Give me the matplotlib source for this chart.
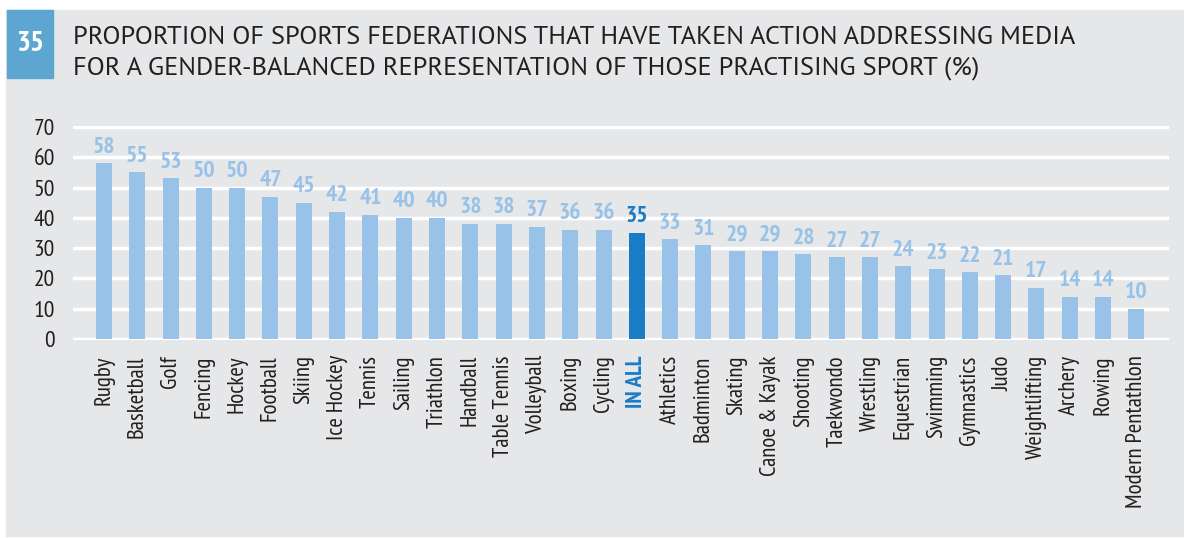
import matplotlib.pyplot as plt
from matplotlib.patches import Rectangle

# federations and share (%) that took media action
sports = ["Rugby", "Basketball", "Golf", "Fencing", "Hockey", "Football", "Skiing",
          "Ice Hockey", "Tennis", "Sailing", "Triathlon", "Handball", "Table Tennis",
          "Volleyball", "Boxing", "Cycling", "IN ALL", "Athletics", "Badminton",
          "Skating", "Canoe & Kayak", "Shooting", "Taekwondo", "Wrestling",
          "Equestrian", "Swimming", "Gymnastics", "Judo", "Weightlifting",
          "Archery", "Rowing", "Modern Pentathlon"]
values = [58, 55, 53, 50, 50, 47, 45, 42, 41, 40, 40, 38, 38, 37, 36, 36, 35,
          33, 31, 29, 29, 28, 27, 27, 24, 23, 22, 21, 17, 14, 14, 10]
yticks = [0, 10, 20, 30, 40, 50, 60, 70]
total_label = "IN ALL"

light = "#99c2e8"
dark = "#1a7cc6"
panel = "#e6e7e8"
text_col = "#231f20"
narrow = ["PT Sans Narrow", "DejaVu Sans"]
title_font = ["PT Sans", "DejaVu Sans"]

fig = plt.figure(figsize=(11.84, 5.38), dpi=100)
fig.patch.set_facecolor("white")

W, H = 1184, 538
# grey panel and number box
fig.patches.append(Rectangle((6 / W, 2 / H), 1 - 6 / W, 526 / H,
                             transform=fig.transFigure, color=panel, zorder=0))
fig.patches.append(Rectangle((7 / W, (H - 78) / H), 46 / W, 68 / H,
                             transform=fig.transFigure, color="#5ea6d2", zorder=1))
fig.text(30 / W, (H - 44) / H, "35", color="white", fontsize=21, fontweight="bold",
         family=narrow, ha="center", va="center")
fig.text(73 / W, (H - 37) / H,
         "PROPORTION OF SPORTS FEDERATIONS THAT HAVE TAKEN ACTION ADDRESSING MEDIA",
         color=text_col, fontsize=19, family=title_font, va="center")
fig.text(73 / W, (H - 68) / H,
         "FOR A GENDER-BALANCED REPRESENTATION OF THOSE PRACTISING SPORT (%)",
         color=text_col, fontsize=19, family=title_font, va="center")

px = 212 / 70
ax = fig.add_axes([73 / W, (199 - 0.3 * px) / H, 1096 / W, (212 + 0.6 * px) / H])
ax.set_zorder(3)
ax.set_facecolor("none")
x = list(range(len(sports)))
colors = [dark if s == total_label else light for s in sports]
ax.bar(x, values, width=0.48, color=colors, zorder=3)

for i, v in enumerate(values):
    ax.annotate(str(v), (i, v), xytext=(0, 4), textcoords="offset points",
                ha="center", va="bottom", fontsize=17, fontweight="bold",
                family=narrow, color=colors[i])

ax.set_xlim(-0.93, 31.98)
ax.set_ylim(-0.3, 70.3)
ax.set_yticks(yticks)
ax.set_yticklabels([str(t) for t in yticks], fontsize=17, family=narrow, color=text_col)
ax.set_xticks(x)
ax.set_xticklabels(sports, rotation=90, fontsize=16.5, family=narrow, color=text_col)
for lbl in ax.get_xticklabels():
    if lbl.get_text() == total_label:
        lbl.set_color(dark)
        lbl.set_fontweight("bold")
ax.tick_params(axis="both", length=0)
ax.tick_params(axis="y", pad=13)
ax.tick_params(axis="x", pad=11)
ax.grid(axis="y", color="white", linewidth=2.5, zorder=1)
for s in ax.spines.values():
    s.set_visible(False)

fig.savefig("out.png", dpi=100)
